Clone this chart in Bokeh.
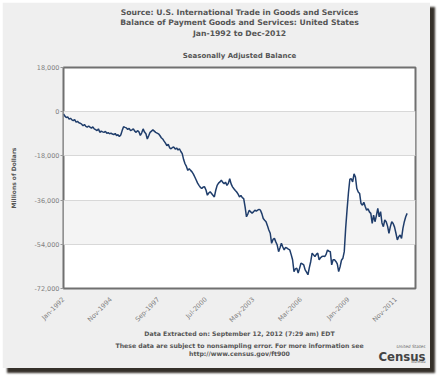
from bokeh.plotting import figure
from bokeh.models import Range1d, FixedTicker, BoxAnnotation, NumeralTickFormatter, Title, LinearAxis
from bokeh.embed import file_html
from bokeh.resources import INLINE
import math

# Monthly balance, millions of dollars, Jan-1992 .. Jul-2012
y1992 = [-900, -1800, -2400, -2100, -3000, -2700, -3300, -3600, -3200, -4300, -3900, -4500]
y1993 = [-4700, -5100, -5700, -5200, -6000, -6300, -5800, -6300, -6700, -6200, -7000, -7300]
y1994 = [-7700, -7000, -8400, -7900, -8200, -8400, -8000, -8800, -8500, -9000, -8700, -9100]
y1995 = [-9300, -8900, -9700, -9400, -10100, -9500, -7700, -6100, -6400, -6600, -7200, -6800]
y1996 = [-7700, -7400, -7000, -7900, -8400, -7700, -8200, -9700, -8600, -7000, -8300, -9000]
y1997 = [-11100, -9800, -8400, -7900, -7400, -7900, -8400, -8700, -9000, -9700, -10600, -11100]
y1998 = [-12000, -12800, -13800, -13300, -14700, -15100, -14600, -14400, -15200, -14800, -15600, -15100]
y1999 = [-16200, -17100, -19500, -21200, -22300, -23900, -23200, -23900, -24500, -25400, -26600, -27800]
y2000 = [-29100, -30000, -30800, -31300, -30700, -30600, -31900, -34000, -33100, -32600, -33300, -34000]
y2001 = [-34700, -32000, -30000, -29100, -28600, -27900, -28800, -29300, -28700, -30000, -29200, -27300]
y2002 = [-29400, -30600, -31400, -32100, -32700, -33600, -34700, -34100, -35000, -35400, -38800, -42800]
y2003 = [-41600, -40100, -40800, -41300, -40800, -40100, -40500, -40100, -39800, -40100, -41500, -43500]
y2004 = [-44200, -44800, -46400, -48200, -49500, -53600, -52000, -51600, -53000, -54300, -57000, -55400]
y2005 = [-53600, -55100, -56300, -55200, -55600, -56000, -56300, -58200, -60300, -65100, -64000, -63700]
y2006 = [-65700, -63800, -61700, -62000, -62400, -64400, -65300, -66400, -63500, -61000, -57600, -58300]
y2007 = [-59000, -58100, -57600, -60300, -59500, -59000, -58800, -59000, -58100, -56300, -56800, -57000]
y2008 = [-62400, -60300, -60300, -61000, -62000, -65100, -63200, -60500, -59700, -57000, -47500, -40000]
y2009 = [-33000, -27500, -27300, -28600, -25300, -26600, -31300, -32700, -33300, -37400, -38100, -36900]
y2010 = [-38600, -40100, -39500, -40800, -41400, -45500, -42100, -44800, -42300, -39400, -42800, -40700]
y2011 = [-45300, -46800, -44100, -44800, -46600, -49500, -46800, -44800, -45500, -47000, -49500, -52200]
y2012 = [-50900, -50200, -51600, -47500, -44800, -42800, -41400]

balance = (y1992 + y1993 + y1994 + y1995 + y1996 + y1997 + y1998 + y1999 + y2000 + y2001
           + y2002 + y2003 + y2004 + y2005 + y2006 + y2007 + y2008 + y2009 + y2010 + y2011 + y2012)
months = list(range(len(balance)))

x_tick_pos = [0, 34, 68, 102, 136, 170, 204, 238]
x_tick_labels = ["Jan-1992", "Nov-1994", "Sep-1997", "Jul-2000", "May-2003", "Mar-2006", "Jan-2009", "Nov-2011"]
y_ticks = [18000, 0, -18000, -36000, -54000, -72000]

title_lines = ["Source: U.S. International Trade in Goods and Services",
               "Balance of Payment Goods and Services: United States",
               "Jan-1992 to Dec-2012"]
subtitle = "Seasonally Adjusted Balance"
footer_lines = ["Data Extracted on: September 12, 2012 (7:29 am) EDT",
                "These data are subject to nonsampling error. For more information see",
                "http://www.census.gov/ft900"]
logo_lines = ["United States", "Census", "Bureau"]

FONT = "DejaVu Sans"
TXT = "#555555"
PANEL = "#efefef"

p = figure(width=428, height=366, output_backend="svg", toolbar_location=None,
           x_range=Range1d(0, 252), y_range=Range1d(-72000, 18000),
           min_border_left=61, min_border_right=15, min_border_top=65, min_border_bottom=79)
p.styles = {"margin": "2px 0 0 2px", "box-shadow": "5px 5px 2px #35302a"}
p.border_fill_color = PANEL
p.background_fill_color = "#ffffff"
p.outline_line_color = "#707070"
p.outline_line_width = 2

p.xgrid.visible = False
p.ygrid.grid_line_color = "#d8d8d8"

# shaded bands between alternate y ticks
for top, bottom in [(y_ticks[1], y_ticks[2]), (y_ticks[3], y_ticks[4])]:
    p.add_layout(BoxAnnotation(top=top, bottom=bottom, fill_color="#f4f4f4", fill_alpha=1,
                               line_color=None, level="image"))

p.yaxis.ticker = FixedTicker(ticks=y_ticks)
p.yaxis.formatter = NumeralTickFormatter(format="0,0")
p.yaxis.axis_line_color = None
p.yaxis.major_tick_line_color = "#999999"
p.yaxis.major_tick_out = 3
p.yaxis.major_tick_in = 0
p.yaxis.minor_tick_line_color = None
p.yaxis.major_label_standoff = 1
p.yaxis.major_label_text_font = FONT
p.yaxis.major_label_text_font_size = "6.5px"
p.yaxis.major_label_text_color = "#808080"
p.yaxis.axis_label = "Millions of Dollars"
p.yaxis.axis_label_text_font = FONT
p.yaxis.axis_label_text_font_size = "6px"
p.yaxis.axis_label_text_font_style = "bold"
p.yaxis.axis_label_text_color = TXT
p.yaxis.axis_label_standoff = 14

p.xaxis.ticker = FixedTicker(ticks=x_tick_pos)
p.xaxis.major_label_overrides = {t: l for t, l in zip(x_tick_pos, x_tick_labels)}
p.xaxis.major_label_orientation = math.pi / 4
p.xaxis.axis_line_color = None
p.xaxis.major_tick_line_color = None
p.xaxis.minor_tick_line_color = None
p.xaxis.major_label_standoff = 4
p.xaxis.major_label_text_font = FONT
p.xaxis.major_label_text_font_size = "6.5px"
p.xaxis.major_label_text_color = "#808080"

p.line(months, balance, line_color="#1f3d6b", line_width=1.5)

def add_title(text, place, size, standoff, align="center", offset=0, color=TXT,
              font=FONT, style="bold", valign="bottom"):
    p.add_layout(Title(text=text, align=align, text_font=font, text_font_size=size,
                       text_font_style=style, text_color=color, standoff=standoff,
                       offset=offset, vertical_align=valign), place)

def add_gap(place, size):
    # an invisible axis used only as vertical spacing between the text rows
    mid = x_tick_pos[len(x_tick_pos) // 2]
    gap = LinearAxis(ticker=FixedTicker(ticks=[mid]), major_label_overrides={mid: ""},
                     axis_line_color=None, major_tick_out=size, major_tick_in=0,
                     major_tick_line_color=PANEL, minor_tick_line_color=None,
                     major_label_standoff=0, major_label_text_font_size="1px")
    p.add_layout(gap, place)

# above: first added is closest to the plot
add_title(subtitle, "above", "7px", 15)
add_gap("above", 5)
add_title(title_lines[2], "above", "7.7px", 0)
add_title(title_lines[1], "above", "7.7px", -1)
add_title(title_lines[0], "above", "7.7px", 0)

# below: after the x axis
add_title(footer_lines[0], "below", "6.2px", -4)
add_gap("below", 6)
add_title(footer_lines[1], "below", "6.2px", -2)
add_title(logo_lines[0], "below", "4.3px", -6.8, align="right", offset=-10, color="#666666",
          style="italic", valign="top")
add_title(footer_lines[2], "below", "6.2px", 0)
add_title(logo_lines[1], "below", "13px", -16, align="right", offset=-10, color="#444444",
          font="DejaVu Sans Condensed", valign="top")
add_title(logo_lines[2], "below", "4px", 3.5, align="right", offset=-10, color="#666666",
          style="normal", valign="top")

open("out.html", "w").write(file_html(p, INLINE))
